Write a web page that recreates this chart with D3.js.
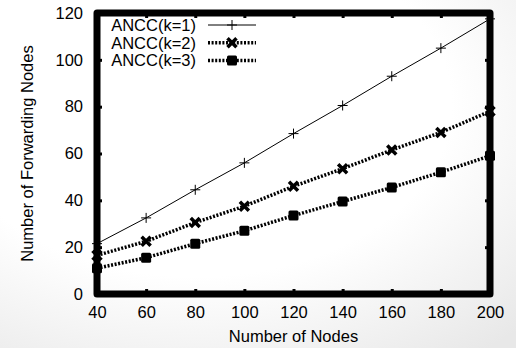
<!DOCTYPE html>
<html>
<head>
<meta charset="UTF-8">
<title>Forwarding nodes</title>
<style>
  body { margin: 0; }
  text { font-family: "Liberation Sans", Arial, sans-serif; fill: #000; }
  .axis text { font-size: 16.5px; }
  .axis .domain { display: none; }
  .axis line { stroke: #000; stroke-width: 3px; }
</style>
<script src="https://d3js.org/d3.v7.min.js"></script>
</head>
<body>
<div id="chart"></div>
<script>
const nodes = [40, 60, 80, 100, 120, 140, 160, 180, 200];
const k1 = [21.5, 32.5, 44.5, 56, 68.5, 80.5, 93, 105, 117.5];
const k2 = [16.5, 22.5, 30.5, 37.5, 46, 53.5, 61.5, 69, 78];
const k3 = [11, 15.5, 21.5, 27, 33.5, 39.5, 45.5, 52, 59];
const seriesNames = ["ANCC(k=1)", "ANCC(k=2)", "ANCC(k=3)"];
const yTicks = [0, 20, 40, 60, 80, 100, 120];

const W = 516, H = 348;
const margin = { top: 13, right: 26, bottom: 54, left: 97 };
const width = W - margin.left - margin.right,
      height = H - margin.top - margin.bottom;

const svg = d3.select("#chart").append("svg")
  .attr("width", W).attr("height", H);

// soft background shading
const defs = svg.append("defs");
const grad = defs.append("radialGradient").attr("id", "bg")
  .attr("cx", "38%").attr("cy", "30%").attr("r", "90%");
grad.append("stop").attr("offset", "55%").attr("stop-color", "#ffffff");
grad.append("stop").attr("offset", "100%").attr("stop-color", "#e8e8e8");
svg.append("rect").attr("width", W).attr("height", H).attr("fill", "url(#bg)");

const g = svg.append("g")
  .attr("transform", "translate(" + margin.left + "," + margin.top + ")");

const x = d3.scaleLinear().domain([40, 200]).range([0, width]);
const y = d3.scaleLinear().domain([0, 120]).range([height, 0]);

// axes with short inward ticks
g.append("g").attr("class", "axis")
  .attr("transform", "translate(0," + height + ")")
  .call(d3.axisBottom(x).tickValues(nodes).tickSize(-5).tickPadding(12));
g.append("g").attr("class", "axis")
  .call(d3.axisTop(x).tickValues(nodes).tickSize(-5).tickFormat(""));
g.append("g").attr("class", "axis")
  .call(d3.axisLeft(y).tickValues(yTicks).tickSize(-5).tickPadding(14));
g.append("g").attr("class", "axis")
  .attr("transform", "translate(" + width + ",0)")
  .call(d3.axisRight(y).tickValues(yTicks).tickSize(-5).tickFormat(""));

// frame
g.append("rect")
  .attr("width", width).attr("height", height)
  .attr("fill", "none").attr("stroke", "#000")
  .attr("stroke-width", 7).attr("stroke-linejoin", "round");

// axis titles
svg.append("text")
  .attr("x", margin.left + width / 2).attr("y", 342)
  .attr("text-anchor", "middle").style("font-size", "16.5px")
  .text("Number of Nodes");
svg.append("text")
  .attr("transform", "translate(33," + (margin.top + height / 2) + ") rotate(-90)")
  .attr("text-anchor", "middle").style("font-size", "16.5px")
  .text("Number of Forwarding Nodes");

const line = d3.line().x((d, i) => x(nodes[i])).y(d => y(d));

const styles = [
  { data: k1, width: 1, dash: null, marker: "plus" },
  { data: k2, width: 3.5, dash: "2,1.6", marker: "cross" },
  { data: k3, width: 3.5, dash: "2,1.6", marker: "square" }
];

function drawMarker(sel, type) {
  if (type === "plus") {
    sel.append("path").attr("d", "M-5,0H5M0,-5V5")
      .attr("stroke", "#000").attr("stroke-width", 1).attr("fill", "none");
  } else if (type === "cross") {
    sel.append("path").attr("d", "M-4.5,-4.5L4.5,4.5M-4.5,4.5L4.5,-4.5")
      .attr("stroke", "#000").attr("stroke-width", 3.5).attr("fill", "none");
  } else {
    sel.append("rect").attr("x", -5).attr("y", -5).attr("width", 10).attr("height", 10)
      .attr("rx", 1.5).attr("fill", "#000");
  }
}

styles.forEach(s => {
  g.append("path").datum(s.data)
    .attr("d", line)
    .attr("fill", "none").attr("stroke", "#000")
    .attr("stroke-width", s.width)
    .attr("stroke-dasharray", s.dash);
  g.selectAll(null).data(s.data).enter().append("g")
    .attr("transform", (d, i) => "translate(" + x(nodes[i]) + "," + y(d) + ")")
    .each(function () { drawMarker(d3.select(this), s.marker); });
});

// legend
const legend = svg.append("g");
seriesNames.forEach((name, i) => {
  const ly = 25 + i * 17.7;
  legend.append("text")
    .attr("x", 196).attr("y", ly + 6)
    .attr("text-anchor", "end").style("font-size", "16.5px")
    .text(name);
  legend.append("line")
    .attr("x1", 208).attr("x2", 256).attr("y1", ly).attr("y2", ly)
    .attr("stroke", "#000").attr("stroke-width", styles[i].width)
    .attr("stroke-dasharray", styles[i].dash);
  const m = legend.append("g").attr("transform", "translate(232," + ly + ")");
  drawMarker(m, styles[i].marker);
});
</script>
</body>
</html>
